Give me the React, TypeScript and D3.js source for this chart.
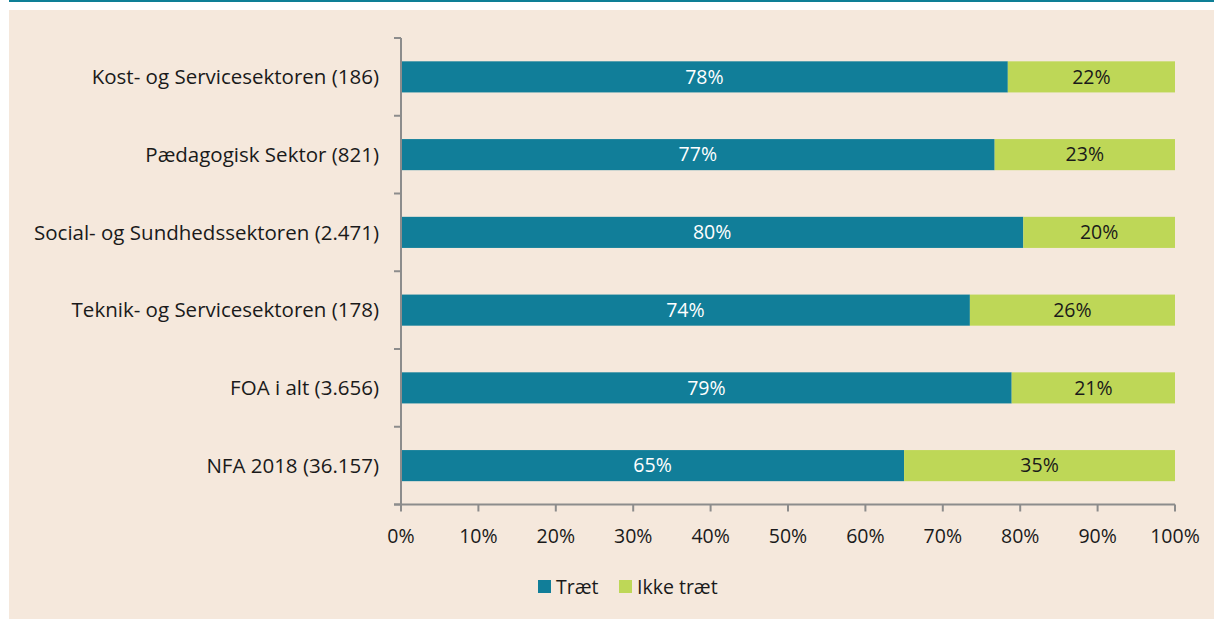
import React from "react";
import * as d3 from "d3";

const categories = [
  "Kost- og Servicesektoren (186)",
  "Pædagogisk Sektor (821)",
  "Social- og Sundhedssektoren (2.471)",
  "Teknik- og Servicesektoren (178)",
  "FOA i alt (3.656)",
  "NFA 2018 (36.157)",
];
const traet = [78.4, 76.7, 80.4, 73.5, 78.9, 65.0];
const ikkeTraet = [21.6, 23.3, 19.6, 26.5, 21.1, 35.0];
const traetLabels = ["78%", "77%", "80%", "74%", "79%", "65%"];
const ikkeLabels = ["22%", "23%", "20%", "26%", "21%", "35%"];
const xTicks = [0, 10, 20, 30, 40, 50, 60, 70, 80, 90, 100];
const seriesNames = ["Træt", "Ikke træt"];

const W = 1214;
const H = 619;
const FONT = "'Open Sans', 'Noto Sans', sans-serif";
const TEAL = "#117E99";
const GREEN = "#BED757";
const BG = "#F5E8DC";
const AXIS = "#8C8C8C";
const FS = 19.5;
const FS_CAT = 20.5;

export default function App() {
  const left = 401;
  const right = 1175;
  const top = 38;
  const bottom = 504.5;
  const x = d3.scaleLinear().domain([0, 100]).range([left, right]);
  const y = d3
    .scaleBand<string>()
    .domain(categories)
    .range([top, bottom])
    .paddingInner(0.6)
    .paddingOuter(0.3);
  const bh = y.bandwidth();
  const boundaries = d3.range(categories.length + 1).map((i) => top + i * ((bottom - top) / categories.length));

  return (
    <svg
      width={W}
      height={H}
      style={{ position: "absolute", left: 0, top: 0, display: "block" }}
      fontFamily={FONT}
    >
      <rect x={0} y={0} width={W} height={H} fill="#ffffff" />
      <rect x={9} y={0} width={W - 9} height={2} fill="#0E7F96" />
      <rect x={9} y={10} width={W - 9} height={H - 10} fill={BG} />

      {categories.map((c, i) => {
        const yy = y(c)!;
        const x0 = x(0);
        const x1 = x(traet[i]);
        const x2 = x(traet[i] + ikkeTraet[i]);
        return (
          <g key={c}>
            <rect x={x0} y={yy} width={x1 - x0} height={bh} fill={TEAL} />
            <rect x={x1} y={yy} width={x2 - x1} height={bh} fill={GREEN} />
            <text
              x={(x0 + x1) / 2}
              y={yy + bh / 2}
              dy="0.35em"
              textAnchor="middle"
              fontSize={FS}
              fill="#ffffff"
            >
              {traetLabels[i]}
            </text>
            <text
              x={(x1 + x2) / 2}
              y={yy + bh / 2}
              dy="0.35em"
              textAnchor="middle"
              fontSize={FS}
              fill="#1a1a1a"
            >
              {ikkeLabels[i]}
            </text>
            <text
              x={379}
              y={yy + bh / 2}
              dy="0.35em"
              textAnchor="end"
              fontSize={FS_CAT}
              fill="#1a1a1a"
            >
              {c}
            </text>
          </g>
        );
      })}

      {/* y axis */}
      <line x1={left} x2={left} y1={top} y2={bottom} stroke={AXIS} strokeWidth={2} />
      {boundaries.map((b, i) => (
        <line key={i} x1={394} x2={left} y1={b} y2={b} stroke={AXIS} strokeWidth={2} />
      ))}
      {/* x axis */}
      <line x1={394} x2={right} y1={bottom} y2={bottom} stroke={AXIS} strokeWidth={2} />
      {xTicks.map((t) => (
        <g key={t}>
          <line x1={x(t)} x2={x(t)} y1={bottom} y2={bottom + 7} stroke={AXIS} strokeWidth={2} />
          <text x={x(t)} y={536} dy="0.35em" textAnchor="middle" fontSize={FS} fill="#1a1a1a">
            {t + "%"}
          </text>
        </g>
      ))}

      {/* legend */}
      <rect x={538} y={580} width={13} height={13} fill={TEAL} />
      <text x={556} y={587} dy="0.35em" fontSize={FS} fill="#1a1a1a">
        {seriesNames[0]}
      </text>
      <rect x={619} y={580} width={13} height={13} fill={GREEN} />
      <text x={637} y={587} dy="0.35em" fontSize={FS} fill="#1a1a1a">
        {seriesNames[1]}
      </text>
    </svg>
  );
}
